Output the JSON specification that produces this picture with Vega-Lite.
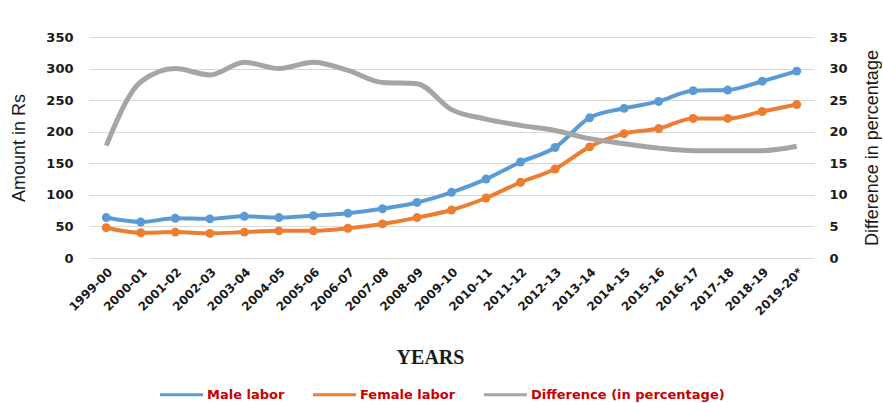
{
  "$schema": "https://vega.github.io/schema/vega-lite/v6.json",
  "width": 725,
  "height": 221,
  "padding": {"left": 10, "top": 31, "right": 0, "bottom": 0},
  "background": "white",
  "config": {
    "view": {"stroke": null},
    "font": "DejaVu Sans",
    "axis": {
      "labelFont": "DejaVu Sans",
      "labelFontWeight": "bold",
      "labelFontSize": 13,
      "labelColor": "#1a1a1a",
      "titleFont": "Liberation Sans",
      "titleFontWeight": "normal",
      "titleFontSize": 18,
      "titleColor": "#1a1a1a",
      "ticks": false,
      "domain": false
    }
  },
  "data": {
    "values": [
      {"year": "1999-00", "Male labor": 64, "Female labor": 48, "Difference": 17.8},
      {"year": "2000-01", "Male labor": 57, "Female labor": 40, "Difference": 27.9},
      {"year": "2001-02", "Male labor": 63, "Female labor": 41, "Difference": 30.0},
      {"year": "2002-03", "Male labor": 62, "Female labor": 39, "Difference": 29.0},
      {"year": "2003-04", "Male labor": 66, "Female labor": 41, "Difference": 31.0},
      {"year": "2004-05", "Male labor": 64, "Female labor": 43, "Difference": 30.0},
      {"year": "2005-06", "Male labor": 67, "Female labor": 43, "Difference": 31.0},
      {"year": "2006-07", "Male labor": 71, "Female labor": 47, "Difference": 29.7},
      {"year": "2007-08", "Male labor": 78, "Female labor": 54, "Difference": 27.8},
      {"year": "2008-09", "Male labor": 88, "Female labor": 64, "Difference": 27.6},
      {"year": "2009-10", "Male labor": 104, "Female labor": 76, "Difference": 23.5},
      {"year": "2010-11", "Male labor": 125, "Female labor": 95, "Difference": 22.0},
      {"year": "2011-12", "Male labor": 152, "Female labor": 120, "Difference": 21.0},
      {"year": "2012-13", "Male labor": 175, "Female labor": 141, "Difference": 20.2},
      {"year": "2013-14", "Male labor": 222, "Female labor": 176, "Difference": 18.9},
      {"year": "2014-15", "Male labor": 237, "Female labor": 197, "Difference": 18.1},
      {"year": "2015-16", "Male labor": 248, "Female labor": 205, "Difference": 17.4},
      {"year": "2016-17", "Male labor": 265, "Female labor": 221, "Difference": 17.0},
      {"year": "2017-18", "Male labor": 266, "Female labor": 221, "Difference": 17.0},
      {"year": "2018-19", "Male labor": 280, "Female labor": 232, "Difference": 17.0},
      {"year": "2019-20*", "Male labor": 296, "Female labor": 243, "Difference": 17.7}
    ]
  },
  "encoding": {
    "x": {
      "field": "year",
      "type": "ordinal",
      "sort": null,
      "scale": {"type": "point", "padding": 0.5},
      "axis": {
        "title": "YEARS",
        "titleFont": "Liberation Serif",
        "titleFontWeight": "bold",
        "titleFontSize": 20,
        "titlePadding": 30,
        "titleX": 341,
        "labelAngle": -45,
        "labelPadding": 8,
        "labelFontSize": 12,
        "grid": false
      }
    }
  },
  "layer": [
    {
      "transform": [{"fold": ["Male labor", "Female labor"], "as": ["series", "value"]}],
      "encoding": {
        "y": {
          "field": "value",
          "type": "quantitative",
          "scale": {"domain": [0, 350]},
          "axis": {
            "title": "Amount in Rs",
            "orient": "left",
            "values": [0, 50, 100, 150, 200, 250, 300, 350],
            "grid": true,
            "gridColor": "#d9d9d9",
            "labelPadding": 16,
            "titlePadding": 17
          }
        },
        "color": {
          "field": "series",
          "type": "nominal",
          "scale": {
            "domain": ["Male labor", "Female labor", "Difference (in percentage)"],
            "range": ["#5B9BD5", "#ED7D31", "#A5A5A5"]
          },
          "legend": {
            "title": null,
            "orient": "none",
            "legendX": 69,
            "legendY": 334,
            "direction": "horizontal",
            "symbolType": "stroke",
            "symbolSize": 1850,
            "symbolStrokeWidth": 3,
            "labelColor": "#C80000",
            "labelFont": "DejaVu Sans",
            "labelFontWeight": "bold",
            "labelFontSize": 13,
            "labelLimit": 400,
            "labelOffset": 2,
            "columnPadding": 21
          }
        }
      },
      "layer": [
        {"mark": {"type": "line", "strokeWidth": 4, "interpolate": "monotone"}},
        {"mark": {"type": "point", "filled": true, "size": 80, "opacity": 1}}
      ]
    },
    {
      "mark": {"type": "line", "strokeWidth": 5, "interpolate": "monotone"},
      "encoding": {
        "y": {
          "field": "Difference",
          "type": "quantitative",
          "scale": {"domain": [0, 35]},
          "axis": {
            "title": "Difference in percentage",
            "orient": "right",
            "values": [0, 5, 10, 15, 20, 25, 30, 35],
            "grid": false,
            "labelPadding": 15,
            "titlePadding": 34,
            "titleAngle": -90
          }
        },
        "color": {"datum": "Difference (in percentage)", "type": "nominal"}
      }
    }
  ],
  "resolve": {"scale": {"y": "independent"}}
}
